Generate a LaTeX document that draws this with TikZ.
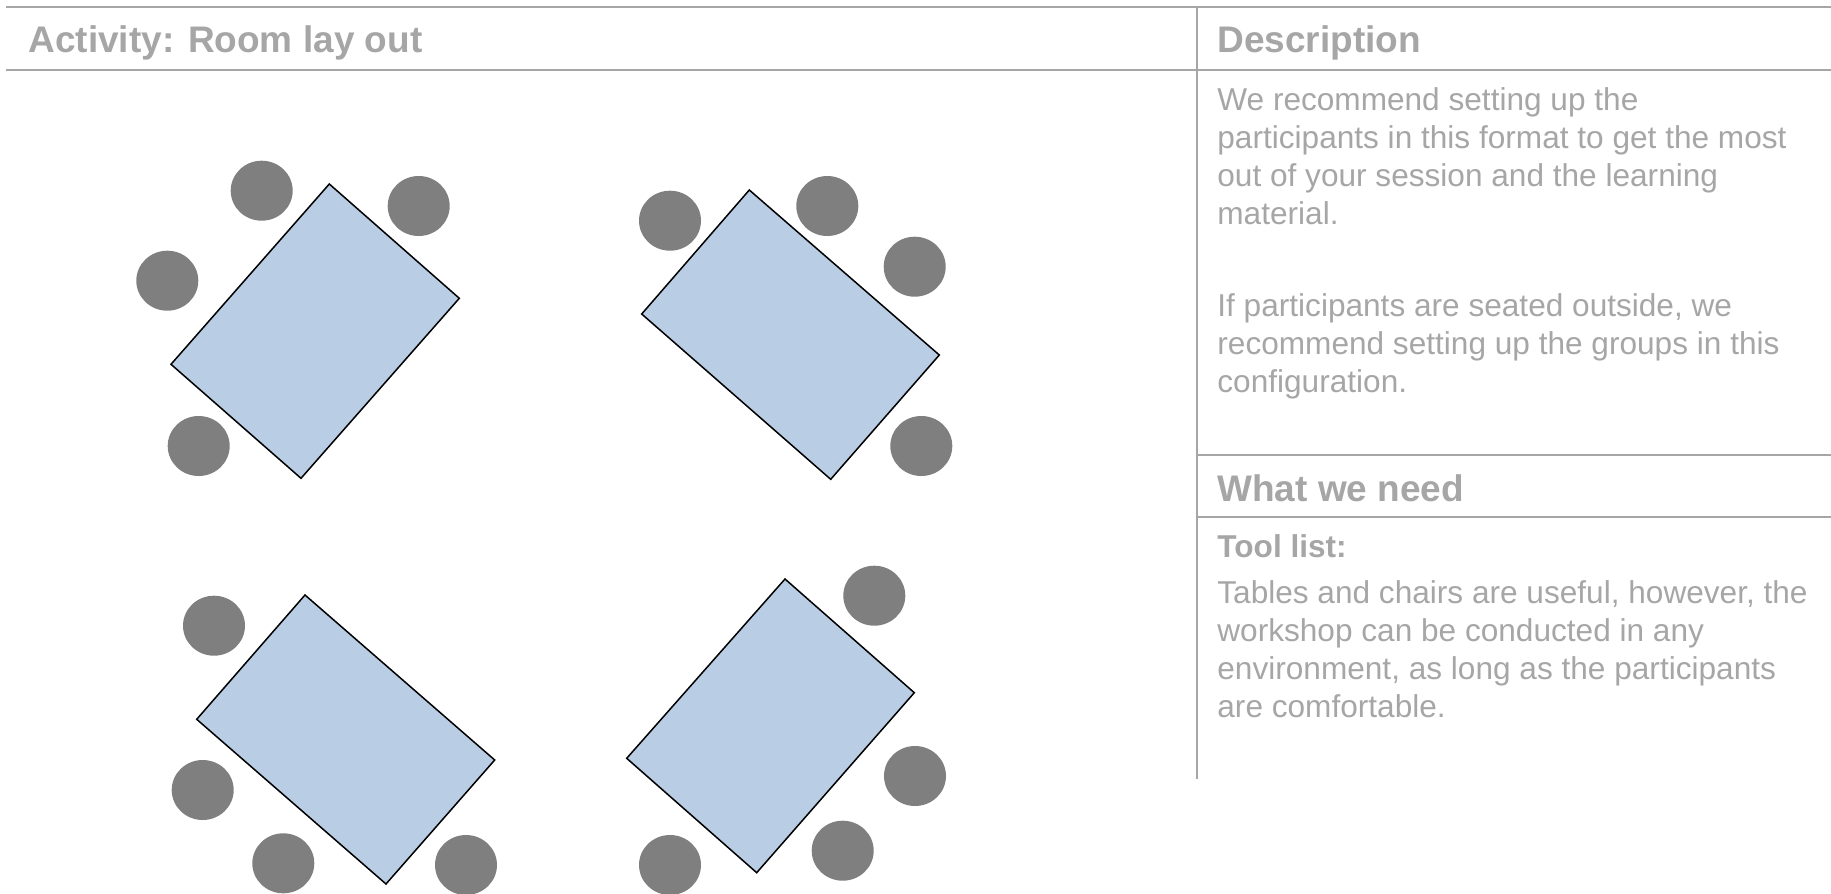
\documentclass[tikz,border=0pt]{standalone}
\usepackage{fontspec}
\setmainfont{Liberation Sans}
\usetikzlibrary{positioning}
\usetikzlibrary{shapes.geometric}

\definecolor{rulegray}{RGB}{166,166,166}
\definecolor{textgray}{RGB}{166,166,166}
\definecolor{chairgray}{RGB}{127,127,127}
\definecolor{tableblue}{RGB}{185,205,229}

\begin{document}
\begin{tikzpicture}[
    x=0.5pt,y=-0.5pt,
    rule/.style={rulegray,line width=1pt},
    heading/.style={anchor=base west,inner sep=0,textgray,
        font=\bfseries\fontsize{18.5}{22}\selectfont},
    body/.style={anchor=base west,inner sep=0,textgray,align=left,
        font=\fontsize{15.8}{19}\selectfont},
    subhead/.style={body,font=\bfseries\fontsize{15.8}{19}\selectfont},
    tablebox/.style={draw=black,fill=tableblue,line width=0.75pt},
    chair/.style={ellipse,fill=chairgray,inner sep=0,
        minimum width=31pt,minimum height=30pt},
]

\useasboundingbox (0,0) rectangle (1831,894);

%----------------------------------
% Grid lines
%----------------------------------

\draw[rule] (6,7) -- (1831,7);
\draw[rule] (6,70) -- (1831,70);
\draw[rule] (1197,7) -- (1197,779);
\draw[rule] (1197,455) -- (1831,455);
\draw[rule] (1197,517) -- (1831,517);

%----------------------------------
% Texts (multi-line nodes sit on their last baseline)
%----------------------------------

\node[heading] (actHead) at (28,52) {Activity: Room lay out};
\node[heading] (descHead) at (1217,52) {Description};

\node[body] (descOne) at (1217,224)
    {We recommend setting up the\\
     participants in this format to get the most\\
     out of your session and the learning\\
     material.};
\node[body] (descTwo) at (1217,392)
    {If participants are seated outside, we\\
     recommend setting up the groups in this\\
     configuration.};

\node[heading] (needHead) at (1217,501) {What we need};
\node[subhead] (toolHead) at (1217,557) {Tool list:};
\node[body] (toolText) at (1217,717)
    {Tables and chairs are useful, however, the\\
     workshop can be conducted in any\\
     environment, as long as the participants\\
     are comfortable.};

%----------------------------------
% Group top left
%----------------------------------

\draw[tablebox] (329.3,184) -- (459.3,298.3) -- (301,478.3) -- (171,364.3) -- cycle;

\node[chair] (tlA) at (261.7,190.7) {};
\node[chair] (tlB) at (418.7,206) {};
\node[chair] (tlC) at (167.3,280.7) {};
\node[chair] (tlD) at (198.7,446) {};

%----------------------------------
% Group top right
%----------------------------------

\draw[tablebox] (749.3,190) -- (939.3,355) -- (830.7,479.3) -- (641.7,314) -- cycle;

\node[chair] (trA) at (670,220.7) {};
\node[chair] (trB) at (827.3,206) {};
\node[chair] (trC) at (914.7,266.7) {};
\node[chair] (trD) at (921.3,446) {};

%----------------------------------
% Group bottom left
%----------------------------------

\draw[tablebox] (305,595) -- (494.7,760) -- (386,884) -- (196.7,719.3) -- cycle;

\node[chair] (blA) at (214,625.7) {};
\node[chair] (blB) at (202.7,790) {};
\node[chair] (blC) at (283.3,863.3) {};
\node[chair] (blD) at (466,865) {};

%----------------------------------
% Group bottom right
%----------------------------------

\draw[tablebox] (785,579) -- (914.3,692.7) -- (756.7,872.7) -- (626.7,758.3) -- cycle;

\node[chair] (brA) at (874.3,595.7) {};
\node[chair] (brB) at (915,776) {};
\node[chair] (brC) at (842.7,850.7) {};
\node[chair] (brD) at (670,865) {};

\end{tikzpicture}
\end{document}
